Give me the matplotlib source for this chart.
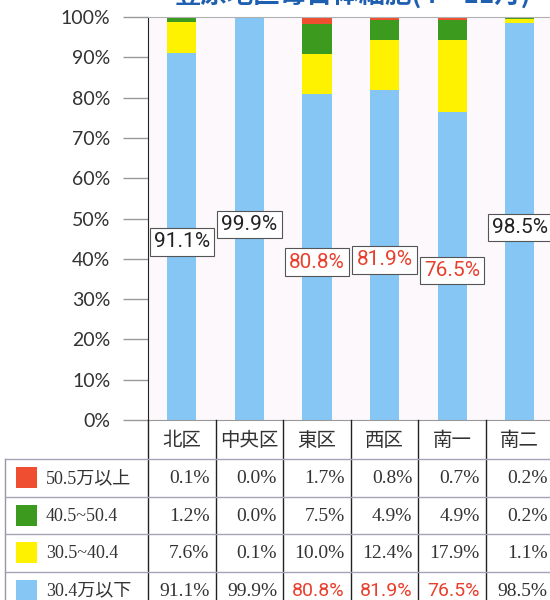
import matplotlib
matplotlib.use("Agg")
import matplotlib.pyplot as plt
from matplotlib.patches import Rectangle

# data
districts = ["北区", "中央区", "東区", "西区", "南一", "南二"]
bands = ["50.5万以上", "40.5~50.4", "30.5~40.4", "30.4万以下"]
over505 = [0.1, 0.0, 1.7, 0.8, 0.7, 0.2]
r405_504 = [1.2, 0.0, 7.5, 4.9, 4.9, 0.2]
r305_404 = [7.6, 0.1, 10.0, 12.4, 17.9, 1.1]
under304 = [91.1, 99.9, 80.8, 81.9, 76.5, 98.5]
yticks = list(range(0, 101, 10))

title = "豊原地区毎日体細胞(4～11月)"

c_blue, c_yellow, c_green, c_red = "#86c6f4", "#fff200", "#3c9a1e", "#f04e30"
c_txt = "#333333"
c_hi = "#e8402e"
serif = ["Liberation Serif", "Noto Sans CJK JP"]
narrow = ["Roboto", "Liberation Sans"]
cjk = ["Noto Sans CJK JP", "DejaVu Sans"]

W, H = 550, 600
x0, pitch = 148, 67.6          # left of plot, px per category
y_top, y_axis = 17, 420        # 100% line and 0% line, px from top
n = len(districts)

fig = plt.figure(figsize=(W / 100, H / 100), dpi=100, facecolor="white")

ax = fig.add_axes([x0 / W, 1 - y_axis / H, n * pitch / W, (y_axis - y_top) / H])
ax.set_facecolor("#fcf8fc")
ax.set_xlim(-0.5, n - 0.5)
ax.set_ylim(0, 100)

xs = list(range(n))
bw = 0.43
series = [(under304, c_blue), (r305_404, c_yellow), (r405_504, c_green), (over505, c_red)]
bottom = [0.0] * n
for vals, col in series:
    ax.bar(xs, vals, bw, bottom=bottom, color=col, linewidth=0, zorder=2)
    bottom = [b + v for b, v in zip(bottom, vals)]

for i, v in enumerate(under304):
    col = c_hi if v < 90 else "#222222"
    ax.text(i, v * 0.485, f"{v}%", ha="center", va="center", fontsize=15,
            family=narrow, color=col, zorder=4,
            bbox=dict(boxstyle="square,pad=0.2", fc="white", ec="#555555", lw=0.8))

ax.set_xticks([])
ax.set_yticks(yticks)
ax.set_yticklabels([f"{t}%" for t in yticks], family=["Lato", "DejaVu Sans"])
ax.tick_params(axis="y", length=18, width=1, color="#999999", pad=9,
               labelsize=14, labelcolor=c_txt)
ax.spines["left"].set_color("#222222")
ax.spines["top"].set_color("#b0b0b0")
ax.spines["bottom"].set_color("#999999")
ax.spines["right"].set_visible(False)

# table below the chart, x in category units, y in px from top
tax = fig.add_axes([0, 0, (x0 + n * pitch) / W, (H - y_axis) / H])
tax.set_xlim(-0.5 - x0 / pitch, n - 0.5)
tax.set_ylim(H, y_axis)
tax.axis("off")

row_top = 459
row_h = 37.5
left_px = 5
lx = -0.5 - (x0 - left_px) / pitch

for i, d in enumerate(districts):
    tax.text(i, (y_axis + row_top) / 2 + 1, d, ha="center", va="center",
             fontsize=14, family=cjk, color=c_txt)

for k in range(n + 1):
    tax.plot([k - 0.5, k - 0.5], [y_axis, H], color="#222222", lw=1, clip_on=False)
tax.plot([lx, lx], [row_top, H], color="#9a94a8", lw=1, clip_on=False)
for r in range(len(bands)):
    y = row_top + r * row_h
    tax.plot([lx, n - 0.5], [y, y], color="#a8a2b8", lw=1, clip_on=False)

rows = [(over505, c_red), (r405_504, c_green), (r305_404, c_yellow), (under304, c_blue)]
for r, ((vals, col), lab) in enumerate(zip(rows, bands)):
    yc = row_top + (r + 0.5) * row_h
    sq = 21 / pitch
    tax.add_patch(Rectangle((lx + 11 / pitch, yc - 10.5), sq, 21, color=col, lw=0))
    tax.text(lx + 41 / pitch, yc + 1, lab, ha="left", va="center", fontsize=13,
             family=serif, color=c_txt)
    for i, v in enumerate(vals):
        hi = vals is under304 and v < 90
        tax.text(i + 0.41, yc + 1, f"{v:.1f}%", ha="right", va="center",
                 fontsize=14 if hi else 14, family=narrow if hi else serif,
                 color=c_hi if hi else c_txt)

fig.text(175 / W, 1 - 4 / H, title, ha="left", va="baseline", fontsize=19,
         fontweight="bold", family=cjk, color="#1f5fb0")

fig.savefig("out.png", dpi=100, facecolor="white")
